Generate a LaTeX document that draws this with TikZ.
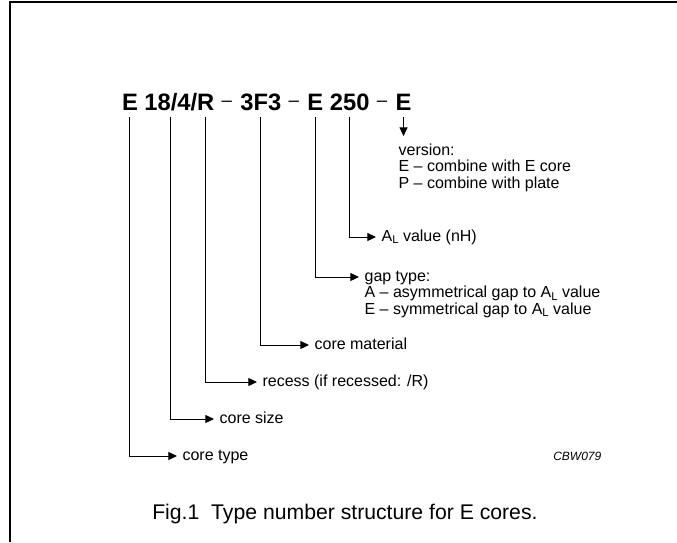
\documentclass[tikz,border=0pt]{standalone}
\usepackage{fontspec}
\setmainfont{Liberation Sans}
\usepackage{tikz}
\usetikzlibrary{arrows.meta,positioning}
\newcommand{\ALsub}{A\raisebox{-2pt}{\fontsize{8.5}{9}\selectfont L}}

\begin{document}
\begin{tikzpicture}[
  x=0.75pt, y=-0.75pt,
  tpart/.style={font=\fontsize{17.8}{20}\selectfont\bfseries, inner sep=0pt, outer sep=0pt},
  tdash/.style={font=\fontsize{14}{16}\selectfont, inner sep=0pt, outer sep=0pt},
  lbl/.style={font=\fontsize{12}{14}\selectfont, anchor=west, inner xsep=4pt,
              inner ysep=0pt, text height=9pt, text depth=3pt},
  lead/.style={line width=0.75pt, -{Triangle[length=6.5pt,width=6pt]}}
]
  \useasboundingbox (0,0) rectangle (677,542);
  \draw[line width=1.5pt] (10,542) |- (677,2.5);

  % type number
  \node[tpart, anchor=base west] (tE) at (122,110) {E};
  \node[tpart, base right=4.95pt of tE] (t18) {18};
  \node[tpart, base right=0pt of t18] (tsl1) {/};
  \node[tpart, base right=0pt of tsl1] (t4) {4};
  \node[tpart, base right=0pt of t4] (tsl2) {/};
  \node[tpart, base right=0pt of tsl2] (tR) {R};
  \node[tdash, base right=5.5pt of tR] (d1) {\raisebox{2.4pt}{--}};
  \node[tpart, base right=6.3pt of d1] (t3F3) {3F3};
  \node[tdash, base right=5.5pt of t3F3] (d2) {\raisebox{2.4pt}{--}};
  \node[tpart, base right=6.3pt of d2] (tgapE) {E};
  \node[tpart, base right=4.95pt of tgapE] (t250) {250};
  \node[tdash, base right=5.5pt of t250] (d3) {\raisebox{2.4pt}{--}};
  \node[tpart, base right=6.3pt of d3] (tverE) {E};

  % labels
  \node[lbl] (lver) at (393,151) {version:};
  \node[lbl, below=0pt of lver.south west, anchor=north west] (lverE) {E -- combine with E core};
  \node[lbl, below=0pt of lverE.south west, anchor=north west] (lverP) {P -- combine with plate};
  \node[lbl] (lal) at (376,237) {\ALsub{} value (nH)};
  \node[lbl] (lgap) at (359,277) {gap type:};
  \node[lbl, below=0pt of lgap.south west, anchor=north west] (lgapA) {A -- asymmetrical gap to \ALsub{} value};
  \node[lbl, below=0pt of lgapA.south west, anchor=north west] (lgapE) {E -- symmetrical gap to \ALsub{} value};
  \node[lbl] (lmat) at (309,345) {core material};
  \node[lbl] (lrec) at (257,382) {recess (if recessed: /R)};
  \node[lbl] (lsize) at (214,419) {core size};
  \node[lbl] (ltype) at (177,456) {core type};
  \node[font=\fontsize{9}{10}\selectfont\itshape, anchor=west, inner sep=0pt] (code) at (553,456) {CBW079};

  \draw[lead, shorten >=5pt] (tverE.south) ++(0,7) -- (tverE.south |- lver.north);
  \draw[lead] (t250.south) ++(0,7) |- (lal.west);
  \draw[lead] (tgapE.south) ++(0,7) |- (lgap.west);
  \draw[lead] (t3F3.south) ++(0,7) |- (lmat.west);
  \draw[lead] (tR.south) ++(0,7) |- (lrec.west);
  \draw[lead] (t18.south east) ++(0,7) |- (lsize.west);
  \draw[lead] (tE.south) ++(0,7) |- (ltype.west);

  \node[font=\fontsize{15.9}{18}\selectfont, anchor=base west, inner sep=0pt] (caption)
    at (152,519) {Fig.1\ \ Type number structure for E cores.};
\end{tikzpicture}
\end{document}
